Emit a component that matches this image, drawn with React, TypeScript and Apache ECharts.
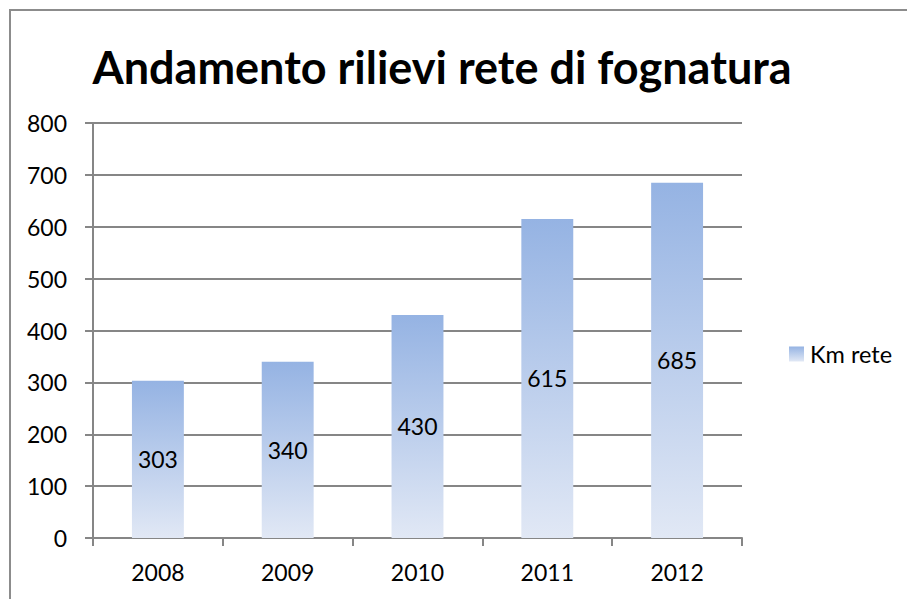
import React, { useEffect, useRef } from "react";
import * as echarts from "echarts";

const title = "Andamento rilievi rete di fognatura";
const categories = ["2008", "2009", "2010", "2011", "2012"];
const seriesName = "Km rete";
const kmRete = [303, 340, 430, 615, 685];
const yMin = 0;
const yMax = 800;
const yInterval = 100;

const FONT = "Lato, 'Open Sans', sans-serif";

export default function App() {
  const ref = useRef<HTMLDivElement>(null);
  useEffect(() => {
    if (!ref.current) return;
    const chart = echarts.init(ref.current, undefined, { renderer: "svg" });
    chart.setOption({
      animation: false,
      backgroundColor: "#ffffff",
      graphic: [
        {
          type: "rect",
          shape: { x: 10, y: 10, width: 1000, height: 800 },
          style: { fill: "none", stroke: "#8c8c8c", lineWidth: 2 },
          silent: true,
          z: 100,
        },
      ],
      title: {
        text: title,
        left: 437,
        textAlign: "center",
        top: 39,
        textStyle: { fontFamily: FONT, fontWeight: "bold", fontSize: 45, color: "#000000" },
      },
      legend: {
        data: [seriesName],
        left: 784,
        top: 337,
        orient: "vertical",
        itemWidth: 15,
        itemHeight: 15,
        itemGap: 6,
        icon: "rect",
        textStyle: { fontFamily: FONT, fontSize: 23.5, color: "#000000", padding: [0, 0, 0, 1] },
      },
      grid: { left: 93, right: 165, top: 123, bottom: 61, containLabel: false },
      xAxis: {
        type: "category",
        data: categories,
        axisLine: { lineStyle: { color: "#868686", width: 2 } },
        axisTick: { show: true, length: 8, lineStyle: { color: "#868686", width: 2 } },
        axisLabel: { fontFamily: FONT, fontSize: 23, color: "#000000", margin: 22 },
      },
      yAxis: {
        type: "value",
        min: yMin,
        max: yMax,
        interval: yInterval,
        axisLine: { show: true, lineStyle: { color: "#868686", width: 2 } },
        axisTick: { show: true, length: 8, lineStyle: { color: "#868686", width: 2 } },
        splitLine: { lineStyle: { color: "#868686", width: 2 } },
        axisLabel: { fontFamily: FONT, fontSize: 23, color: "#000000", margin: 26 },
      },
      series: [
        {
          name: seriesName,
          type: "bar",
          data: kmRete,
          barWidth: "40%",
          itemStyle: {
            color: new echarts.graphic.LinearGradient(0, 0, 0, 1, [
              { offset: 0, color: "#95b3e3" },
              { offset: 1, color: "#e1e8f5" },
            ]),
          },
          label: {
            show: true,
            position: "inside",
            fontFamily: FONT,
            fontSize: 23,
            color: "#000000",
          },
        },
      ],
    });
    return () => chart.dispose();
  }, []);
  return (
    <div
      ref={ref}
      style={{ position: "fixed", left: 0, top: 0, width: 907, height: 599 }}
    />
  );
}
